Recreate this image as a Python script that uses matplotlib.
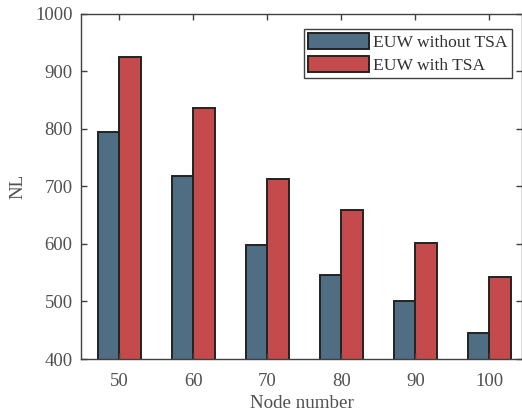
import matplotlib.pyplot as plt
import numpy as np

# Dane
nodes = ["50", "60", "70", "80", "90", "100"]
nl_without_tsa = [794, 718, 598, 546, 501, 446]
nl_with_tsa = [925, 837, 713, 659, 602, 542]

color_blue = "#506e83"
color_red = "#c44a4b"
axis_color = "#404040"
text_color = "#505050"

plt.rcParams["font.family"] = ["Liberation Serif", "DejaVu Serif"]
plt.rcParams["font.size"] = 13.5

fig = plt.figure(figsize=(5.22, 4.12), dpi=100)
ax = fig.add_axes([81 / 522, 1 - 359 / 412, 441 / 522, 345 / 412])

x = np.arange(len(nodes))
w = 0.29
ax.bar(x - w / 2, nl_without_tsa, width=w, color=color_blue, edgecolor="#222222",
       linewidth=1.4, label="EUW without TSA")
ax.bar(x + w / 2, nl_with_tsa, width=w, color=color_red, edgecolor="#222222",
       linewidth=1.4, label="EUW with TSA")

ax.set_xlim(-0.52, 5.44)
ax.set_ylim(400, 1000)
ax.set_xticks(x)
ax.set_xticklabels(nodes)
ax.set_yticks(np.arange(400, 1001, 100))

ax.set_xlabel("Node number", color=text_color, fontsize=13.7, labelpad=4)
ax.set_ylabel("NL", color=text_color, fontsize=13.7, labelpad=6)

for s in ax.spines.values():
    s.set_color(axis_color)
    s.set_linewidth(1.0)
ax.tick_params(direction="in", top=True, right=True, color=axis_color,
               labelcolor=text_color, length=4, width=1.0, labelsize=13.5)
ax.tick_params(axis="x", pad=10)
ax.tick_params(axis="y", pad=6)

leg = ax.legend(loc="upper right", bbox_to_anchor=(0.977, 0.957), fancybox=False,
                framealpha=1, edgecolor=axis_color, fontsize=12.6,
                handlelength=3.5, handleheight=1.05, borderpad=0.25,
                labelspacing=0.25, handletextpad=0.2, borderaxespad=0.0)
leg.get_frame().set_linewidth(1.0)
for t in leg.get_texts():
    t.set_color("#303030")

plt.savefig("out.png", dpi=100)
